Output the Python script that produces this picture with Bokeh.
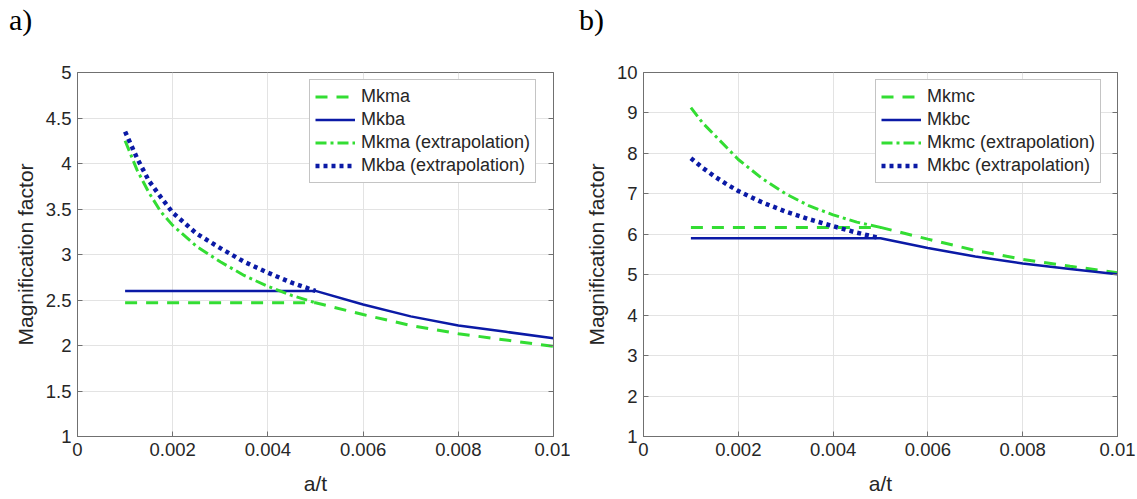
from bokeh.plotting import figure
from bokeh.layouts import row, column
from bokeh.models import Range1d, FixedTicker, LinearAxis, Legend, LegendItem, Div
from bokeh.embed import file_html
from bokeh.resources import INLINE

# ---------------- data ----------------
x_ticks = [0, 0.002, 0.004, 0.006, 0.008, 0.01]
x_tick_labels = ["0", "0.002", "0.004", "0.006", "0.008", "0.01"]

y_ticks_a = [1, 1.5, 2, 2.5, 3, 3.5, 4, 4.5, 5]
y_tick_labels_a = ["1", "1.5", "2", "2.5", "3", "3.5", "4", "4.5", "5"]
y_ticks_b = [1, 2, 3, 4, 5, 6, 7, 8, 9, 10]
y_tick_labels_b = ["1", "2", "3", "4", "5", "6", "7", "8", "9", "10"]

# a/t values
x_main = [0.001, 0.005, 0.006, 0.007, 0.008, 0.009, 0.01]
x_extrap = [0.001, 0.00125, 0.0015, 0.00175, 0.002, 0.0025, 0.003,
            0.0035, 0.004, 0.0045, 0.005]

# panel a)
mkma = [2.47, 2.47, 2.34, 2.22, 2.13, 2.06, 1.99]
mkba = [2.60, 2.60, 2.45, 2.32, 2.22, 2.15, 2.08]
mkma_extrap = [4.25, 3.93, 3.68, 3.47, 3.32, 3.09, 2.92, 2.77, 2.65, 2.55, 2.47]
mkba_extrap = [4.35, 4.06, 3.81, 3.63, 3.46, 3.23, 3.07, 2.92, 2.80, 2.69, 2.60]

# panel b)
mkmc = [6.17, 6.17, 5.88, 5.60, 5.38, 5.21, 5.05]
mkbc = [5.90, 5.90, 5.66, 5.45, 5.28, 5.14, 5.01]
mkmc_extrap = [9.13, 8.75, 8.45, 8.15, 7.85, 7.38, 7.00, 6.70, 6.48, 6.30, 6.17]
mkbc_extrap = [7.88, 7.64, 7.43, 7.24, 7.07, 6.79, 6.56, 6.37, 6.20, 6.04, 5.90]

# ---------------- styling ----------------
GREEN = "#33dd33"
BLUE = "#0b1aa6"
TXT = "#262626"
AXC = "#707070"
FONT = "Liberation Sans"
TAG_H = 40


def style_axis(ax):
    ax.axis_line_color = AXC
    ax.major_tick_line_color = AXC
    ax.major_tick_in = 5
    ax.major_tick_out = 0
    ax.minor_tick_line_color = None
    ax.major_label_text_font = FONT
    ax.major_label_text_font_size = "18.5px"
    ax.major_label_text_color = TXT
    ax.major_label_standoff = 6
    ax.axis_label_text_font = FONT
    ax.axis_label_text_font_size = "21px"
    ax.axis_label_text_font_style = "normal"
    ax.axis_label_text_color = TXT


def make_panel(tag, y_lo, y_hi, y_ticks, y_tick_labels, series, width,
               border_left, border_right):
    p = figure(width=width, height=499 - TAG_H, output_backend="svg", toolbar_location=None,
               x_range=Range1d(0, 0.01), y_range=Range1d(y_lo, y_hi),
               min_border_left=border_left, min_border_right=border_right,
               min_border_top=72 - TAG_H, min_border_bottom=63)
    p.background_fill_color = "white"
    p.border_fill_color = "white"
    p.outline_line_color = AXC
    p.outline_line_width = 1

    xt = dict(zip(x_ticks, x_tick_labels))
    yt = dict(zip(y_ticks, y_tick_labels))

    for ax in p.xaxis:
        ax.ticker = FixedTicker(ticks=x_ticks)
        ax.major_label_overrides = xt
        ax.axis_label = "a/t"
        style_axis(ax)
        ax.axis_label_standoff = 13
    for ax in p.yaxis:
        ax.ticker = FixedTicker(ticks=y_ticks)
        ax.major_label_overrides = yt
        ax.axis_label = "Magnification factor"
        style_axis(ax)
        ax.axis_label_standoff = 6

    # box ticks on right side (no labels)
    right_ax = LinearAxis(ticker=FixedTicker(ticks=y_ticks),
                          major_label_overrides={t: "" for t in y_ticks})
    style_axis(right_ax)
    right_ax.major_label_standoff = 0
    p.add_layout(right_ax, "right")

    p.xgrid.ticker = FixedTicker(ticks=x_ticks)
    p.ygrid.ticker = FixedTicker(ticks=y_ticks)
    p.grid.grid_line_color = "#e3e3e3"
    p.grid.grid_line_width = 1

    items = []
    for label, xs, ys, color, dash, lw in series:
        r = p.line(xs, ys, line_color=color, line_dash=dash, line_width=lw)
        items.append(LegendItem(label=label, renderers=[r]))

    legend = Legend(items=items, location=(232, 253))
    legend.label_text_font = FONT
    legend.label_text_font_size = "18px"
    legend.label_text_color = TXT
    legend.glyph_width = 40
    legend.glyph_height = 23
    legend.label_height = 23
    legend.label_standoff = 6
    legend.spacing = 0
    legend.padding = 5
    legend.margin = 0
    legend.border_line_color = "#8a8a8a"
    legend.border_line_width = 1
    legend.background_fill_color = "white"
    legend.background_fill_alpha = 1
    p.add_layout(legend)

    tag_div = Div(text=tag, width=200, height=TAG_H, margin=0,
                  styles={"font-family": "'Liberation Serif', serif",
                          "font-size": "30px", "line-height": "normal",
                          "padding-left": "9px", "padding-top": "3px",
                          "color": "black"})
    return column(tag_div, p, spacing=0)


pa = make_panel("a)", 1, 5, y_ticks_a, y_tick_labels_a, [
    ("Mkma", x_main, mkma, GREEN, "12 9", 3),
    ("Mkba", x_main, mkba, BLUE, "solid", 2.5),
    ("Mkma (extrapolation)", x_extrap, mkma_extrap, GREEN, "11 4 3 4", 3),
    ("Mkba (extrapolation)", x_extrap, mkba_extrap, BLUE, "4 4", 4.5),
], 570, 77, 17)

pb = make_panel("b)", 1, 10, y_ticks_b, y_tick_labels_b, [
    ("Mkmc", x_main, mkmc, GREEN, "12 9", 3),
    ("Mkbc", x_main, mkbc, BLUE, "solid", 2.5),
    ("Mkmc (extrapolation)", x_extrap, mkmc_extrap, GREEN, "11 4 3 4", 3),
    ("Mkbc (extrapolation)", x_extrap, mkbc_extrap, BLUE, "4 4", 4.5),
], 567, 73, 20)

layout = row(pa, pb, spacing=0)
open("out.html", "w").write(file_html(layout, INLINE))
